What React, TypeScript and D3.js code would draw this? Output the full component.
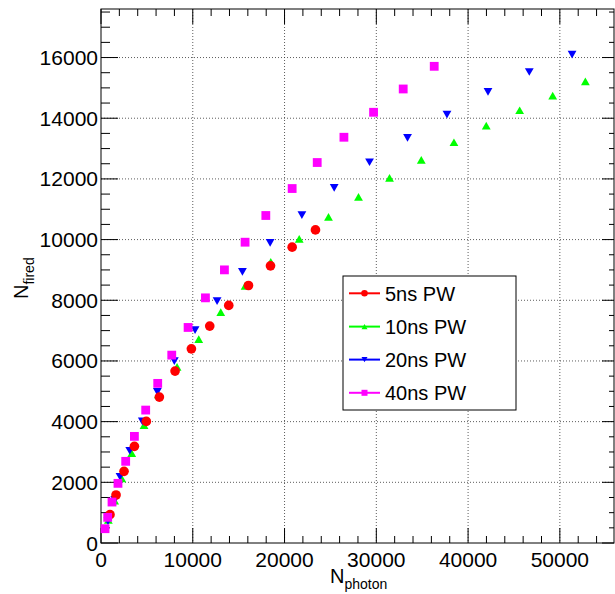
import React from "react";
import * as d3 from "d3";

const red5X = [980, 1640, 2510, 3640, 4940, 6360, 8070, 9850, 11850, 13920, 16070, 18470, 20830, 23370];
const red5Y = [933, 1581, 2362, 3185, 4008, 4809, 5665, 6400, 7148, 7830, 8488, 9134, 9750, 10320];

const green10X = [800, 1490, 2260, 3350, 4690, 6250, 8290, 10650, 13050, 15700, 18500, 21600, 24790, 28060, 31440, 34900, 38460, 41980, 45620, 49220, 52780];
const green10Y = [758, 1393, 2131, 2964, 3887, 4900, 5807, 6720, 7610, 8475, 9266, 10025, 10748, 11407, 12033, 12625, 13208, 13758, 14262, 14746, 15217];

const blue20X = [760, 1500, 2070, 3130, 4500, 6140, 7990, 10250, 12650, 15410, 18430, 21890, 25410, 29260, 33400, 37700, 42170, 46670, 51330];
const blue20Y = [720, 1420, 2184, 3040, 4008, 4983, 5995, 7016, 7971, 8936, 9891, 10804, 11703, 12550, 13350, 14120, 14866, 15524, 16096];

const mag40X = [440, 730, 1200, 1850, 2690, 3640, 4870, 6180, 7710, 9490, 11380, 13450, 15700, 17960, 20830, 23560, 26470, 29700, 32930, 36310];
const mag40Y = [471, 846, 1350, 1966, 2692, 3514, 4381, 5261, 6192, 7104, 8080, 9002, 9914, 10794, 11683, 12540, 13373, 14196, 14964, 15711];

const seriesNames = ["5ns PW", "10ns PW", "20ns PW", "40ns PW"];
const seriesColors = ["#ff0000", "#00ff00", "#0000ff", "#ff00ff"];
const seriesShapes = ["circle", "up", "down", "square"];
const xMajor = [0, 10000, 20000, 30000, 40000, 50000];
const yMajor = [0, 2000, 4000, 6000, 8000, 10000, 12000, 14000, 16000];

const W = 615, H = 594;
const L = 101, R = 614, T = 9, B = 543;
const XMAX = 55900, YMAX = 17600;
const FONT = "'Liberation Sans', Arial, Helvetica, sans-serif";

function Marker({ shape, x, y, color, s }: { shape: string; x: number; y: number; color: string; s: number }) {
  if (shape === "circle") return <circle cx={x} cy={y} r={s * 0.55} fill={color} />;
  if (shape === "square") return <rect x={x - s / 2} y={y - s / 2} width={s} height={s} fill={color} />;
  const h = s * 0.87;
  if (shape === "up")
    return <path d={`M${x - s / 2},${y + h / 2}L${x + s / 2},${y + h / 2}L${x},${y - h / 2}Z`} fill={color} />;
  return <path d={`M${x - s / 2},${y - h / 2}L${x + s / 2},${y - h / 2}L${x},${y + h / 2}Z`} fill={color} />;
}

export default function App() {
  const x = d3.scaleLinear().domain([0, XMAX]).range([L, R]);
  const y = d3.scaleLinear().domain([0, YMAX]).range([B, T]);
  const xMinor = d3.range(0, XMAX, 2000);
  const yMinor = d3.range(0, YMAX, 500);
  const data = [
    { xs: red5X, ys: red5Y },
    { xs: green10X, ys: green10Y },
    { xs: blue20X, ys: blue20Y },
    { xs: mag40X, ys: mag40Y },
  ];
  const drawOrder = [1, 2, 0, 3];
  const legX = 343, legY = 276, legW = 173, legH = 134;
  const rowY = [293.3, 326.6, 359.6, 392.8];

  return (
    <svg width={W} height={H} style={{ position: "absolute", left: 0, top: 0, background: "#fff" }} fontFamily={FONT}>
      <rect x={0} y={0} width={W} height={H} fill="#fff" />
      {xMajor.filter((v) => v > 0).map((v) => (
        <line key={"gx" + v} x1={x(v)} x2={x(v)} y1={T} y2={B} stroke="#333" strokeWidth={0.8} strokeDasharray="1,2" />
      ))}
      {yMajor.filter((v) => v > 0).map((v) => (
        <line key={"gy" + v} x1={L} x2={R} y1={y(v)} y2={y(v)} stroke="#333" strokeWidth={0.8} strokeDasharray="1,2" />
      ))}
      {xMinor.map((v) => {
        const maj = v % 10000 === 0;
        return (
          <g key={"tx" + v}>
            <line x1={x(v)} x2={x(v)} y1={B} y2={B - (maj ? 15 : 7)} stroke="#000" />
            <line x1={x(v)} x2={x(v)} y1={T} y2={T + (maj ? 15 : 7)} stroke="#000" />
          </g>
        );
      })}
      {yMinor.map((v) => {
        const maj = v % 2000 === 0;
        return (
          <g key={"ty" + v}>
            <line x1={L} x2={L + (maj ? 17 : 9)} y1={y(v)} y2={y(v)} stroke="#000" />
            <line x1={R} x2={R - (maj ? 12 : 5)} y1={y(v)} y2={y(v)} stroke="#000" />
          </g>
        );
      })}
      <rect x={L} y={T} width={R - L} height={B - T} fill="none" stroke="#000" strokeWidth={1} />
      {xMajor.map((v) => (
        <text key={"lx" + v} x={x(v)} y={567} textAnchor="middle" fontSize={21} fill="#000">
          {v}
        </text>
      ))}
      {yMajor.map((v) => (
        <text key={"ly" + v} x={98} y={y(v) + 7.5} textAnchor="end" fontSize={21} fill="#000">
          {v}
        </text>
      ))}
      <text x={330} y={583} fontSize={20} fill="#000">
        N<tspan fontSize={14} dy={6}>photon</tspan>
      </text>
      <text transform={`translate(28,${299}) rotate(-90)`} fontSize={20} fill="#000">
        N<tspan fontSize={14} dy={6}>fired</tspan>
      </text>
      {drawOrder.map((i) => (
        <g key={"s" + i}>
          {data[i].xs.map((vx, j) => (
            <Marker key={j} shape={seriesShapes[i]} x={x(vx)} y={y(data[i].ys[j])} color={seriesColors[i]} s={8.8} />
          ))}
        </g>
      ))}
      <rect x={legX} y={legY} width={legW} height={legH} fill="#fff" stroke="#000" strokeWidth={1} />
      {seriesNames.map((n, i) => (
        <g key={"lg" + i}>
          <line x1={349} x2={380} y1={rowY[i]} y2={rowY[i]} stroke={seriesColors[i]} strokeWidth={2} />
          <Marker shape={seriesShapes[i]} x={364.5} y={rowY[i]} color={seriesColors[i]} s={6} />
          <text x={385} y={rowY[i] + 7.3} fontSize={20} fill="#000">
            {n}
          </text>
        </g>
      ))}
    </svg>
  );
}
